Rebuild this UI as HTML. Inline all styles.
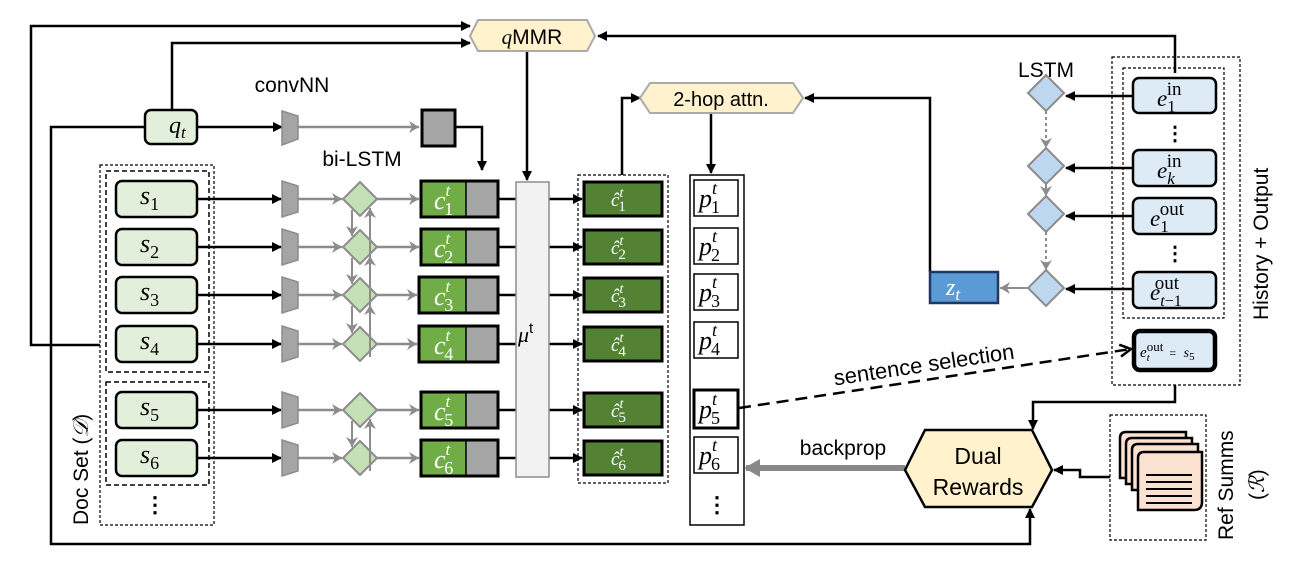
<!DOCTYPE html>
<html><head><meta charset="utf-8"><style>
html,body{margin:0;padding:0;background:#fff;width:1314px;height:562px;overflow:hidden}
svg{display:block}
text{font-family:"Liberation Sans",sans-serif}
.m{font-family:"Liberation Serif",serif;font-style:italic}
.u{font-style:normal}
</style></head><body>
<svg width="1314" height="562" viewBox="0 0 1314 562" xmlns="http://www.w3.org/2000/svg">
<defs>
<marker id="ab" markerWidth="10" markerHeight="10" refX="9" refY="5" orient="auto" markerUnits="userSpaceOnUse"><path d="M0,0 L10,5 L0,10 z" fill="#000"/></marker>
<marker id="ag" markerWidth="12" markerHeight="12" refX="10" refY="6" orient="auto" markerUnits="userSpaceOnUse"><path d="M0,0 L10,6 L0,12 L3,6 z" fill="#8c8c8c"/></marker>
<marker id="ao" markerWidth="14" markerHeight="14" refX="12" refY="7" orient="auto" markerUnits="userSpaceOnUse"><path d="M1,1 L12,7 L1,13" fill="none" stroke="#000" stroke-width="2.5"/></marker>
<marker id="abig" markerWidth="16" markerHeight="18" refX="14" refY="9" orient="auto" markerUnits="userSpaceOnUse"><path d="M0,0 L16,9 L0,18 z" fill="#888"/></marker>
</defs>

<g fill="none" stroke="#000" stroke-width="2.5">
<polyline points="100,345 31,345 31,26 470,26" marker-end="url(#ab)"/>
<polyline points="172,110 172,43 470,43" marker-end="url(#ab)"/>
<polyline points="145,127 51,127 51,544 1030,544 1030,509" marker-end="url(#ab)"/>
<polyline points="197,127 282,127" marker-end="url(#ab)"/>
<polyline points="455,127 482,127 482,170" marker-end="url(#ab)"/>
<polyline points="527,51 527,180" marker-end="url(#ab)"/>
<polyline points="1175,73 1175,36 598,36" marker-end="url(#ab)"/>
<polyline points="622,175 622,98 640,98" marker-end="url(#ab)"/>
<polyline points="711,113 711,173" marker-end="url(#ab)"/>
<polyline points="930,272 930,98 805,98" marker-end="url(#ab)"/>
<polyline points="1175,385 1175,402 1033,402 1033,429" marker-end="url(#ab)"/>
<polyline points="1110,477 1080,477 1080,470 1054,470" marker-end="url(#ab)"/>
</g>

<polygon points="470,36 478,20 587,20 595,36 587,51 478,51" fill="#fff2cc" stroke="#aaa" stroke-width="2"/>
<text x="532" y="44" font-size="21" text-anchor="middle"><tspan class="m">q</tspan>MMR</text>
<polygon points="640,98 650,83 793,83 803,98 793,113 650,113" fill="#fff2cc" stroke="#aaa" stroke-width="2"/>
<text x="721" y="106" font-size="20" text-anchor="middle">2-hop attn.</text>

<rect x="145" y="110" width="52" height="34" rx="6" fill="#e2efda" stroke="#000" stroke-width="2.5"/>
<text x="169" y="133" font-size="24" class="m">q<tspan font-size="17" dy="5">t</tspan></text>
<polygon points="282,111 298,116 298,139 282,145" fill="#a5a5a5" stroke="#8c8c8c" stroke-width="1.5"/>
<line x1="298" y1="127" x2="419" y2="127" stroke="#8c8c8c" stroke-width="2.5" marker-end="url(#ag)"/>
<rect x="422" y="110" width="33" height="36" fill="#a5a5a5" stroke="#000" stroke-width="3"/>
<text x="292" y="92" font-size="21" text-anchor="middle">convNN</text>
<text x="362" y="166" font-size="21" text-anchor="middle">bi-LSTM</text>

<rect x="100" y="165" width="114" height="360" fill="none" stroke="#000" stroke-width="1.2" stroke-dasharray="3,2"/>
<rect x="106" y="171" width="103" height="201" fill="none" stroke="#000" stroke-width="1.5" stroke-dasharray="5,3"/>
<rect x="106" y="382" width="103" height="103" fill="none" stroke="#000" stroke-width="1.5" stroke-dasharray="5,3"/>
<text x="155" y="512" font-size="22" text-anchor="middle" font-weight="bold">⋮</text>
<text transform="translate(88,525) rotate(-90)" font-size="21">Doc Set (<tspan class="m">𝒟</tspan>)</text>

<g>
<g transform="translate(0,199)"><rect x="116" y="-18" width="81" height="36" rx="6" fill="#e2efda" stroke="#000" stroke-width="2.5"/>
<text x="140" y="5" font-size="26" class="m">s<tspan font-size="18" dy="6" class="u">1</tspan></text></g>
<g transform="translate(0,247)"><rect x="116" y="-18" width="81" height="36" rx="6" fill="#e2efda" stroke="#000" stroke-width="2.5"/>
<text x="140" y="5" font-size="26" class="m">s<tspan font-size="18" dy="6" class="u">2</tspan></text></g>
<g transform="translate(0,295)"><rect x="116" y="-18" width="81" height="36" rx="6" fill="#e2efda" stroke="#000" stroke-width="2.5"/>
<text x="140" y="5" font-size="26" class="m">s<tspan font-size="18" dy="6" class="u">3</tspan></text></g>
<g transform="translate(0,344)"><rect x="116" y="-18" width="81" height="36" rx="6" fill="#e2efda" stroke="#000" stroke-width="2.5"/>
<text x="140" y="5" font-size="26" class="m">s<tspan font-size="18" dy="6" class="u">4</tspan></text></g>
<g transform="translate(0,410)"><rect x="116" y="-18" width="81" height="36" rx="6" fill="#e2efda" stroke="#000" stroke-width="2.5"/>
<text x="140" y="5" font-size="26" class="m">s<tspan font-size="18" dy="6" class="u">5</tspan></text></g>
<g transform="translate(0,458)"><rect x="116" y="-18" width="81" height="36" rx="6" fill="#e2efda" stroke="#000" stroke-width="2.5"/>
<text x="140" y="5" font-size="26" class="m">s<tspan font-size="18" dy="6" class="u">6</tspan></text></g>
</g>

<g>
<g transform="translate(0,199)">
<line x1="197" y1="0" x2="281" y2="0" stroke="#000" stroke-width="2.5" marker-end="url(#ab)"/>
<polygon points="282,-18 298,-13 298,13 282,18" fill="#a5a5a5" stroke="#8c8c8c" stroke-width="1.5"/>
<line x1="298" y1="0" x2="342" y2="0" stroke="#8c8c8c" stroke-width="2.5" marker-end="url(#ag)"/>
<polygon points="360,-17 377,0 360,17 343,0" fill="#c5e0b4" stroke="#8c8c8c" stroke-width="2"/>
<line x1="377" y1="0" x2="419" y2="0" stroke="#8c8c8c" stroke-width="2.5" marker-end="url(#ag)"/>
<rect x="421" y="-18" width="45" height="36" fill="#70ad47"/><rect x="466" y="-18" width="32" height="36" fill="#a5a5a5"/>
<rect x="421" y="-18" width="77" height="36" fill="none" stroke="#000" stroke-width="3"/><line x1="466" y1="-18" x2="466" y2="18" stroke="#000" stroke-width="1.5"/>
<text x="434" y="10" font-size="26" fill="#fff" class="m">c<tspan font-size="17" dy="-13">t</tspan><tspan font-size="18" dx="-6" dy="19" class="u">1</tspan></text>
<line x1="498" y1="0" x2="516" y2="0" stroke="#000" stroke-width="2.5"/>
<line x1="549" y1="0" x2="582" y2="0" stroke="#000" stroke-width="2.5" marker-end="url(#ab)"/>
<rect x="584" y="-17" width="78" height="34" fill="#548235" stroke="#000" stroke-width="3"/>
<text x="611" y="7" font-size="19" fill="#fff" class="m">ĉ<tspan font-size="14" dy="-9">t</tspan><tspan font-size="15" dx="-5" dy="14" class="u">1</tspan></text>
</g>
<g transform="translate(0,247)">
<line x1="197" y1="0" x2="281" y2="0" stroke="#000" stroke-width="2.5" marker-end="url(#ab)"/>
<polygon points="282,-18 298,-13 298,13 282,18" fill="#a5a5a5" stroke="#8c8c8c" stroke-width="1.5"/>
<line x1="298" y1="0" x2="342" y2="0" stroke="#8c8c8c" stroke-width="2.5" marker-end="url(#ag)"/>
<polygon points="360,-17 377,0 360,17 343,0" fill="#c5e0b4" stroke="#8c8c8c" stroke-width="2"/>
<line x1="377" y1="0" x2="419" y2="0" stroke="#8c8c8c" stroke-width="2.5" marker-end="url(#ag)"/>
<rect x="421" y="-18" width="45" height="36" fill="#70ad47"/><rect x="466" y="-18" width="32" height="36" fill="#a5a5a5"/>
<rect x="421" y="-18" width="77" height="36" fill="none" stroke="#000" stroke-width="3"/><line x1="466" y1="-18" x2="466" y2="18" stroke="#000" stroke-width="1.5"/>
<text x="434" y="10" font-size="26" fill="#fff" class="m">c<tspan font-size="17" dy="-13">t</tspan><tspan font-size="18" dx="-6" dy="19" class="u">2</tspan></text>
<line x1="498" y1="0" x2="516" y2="0" stroke="#000" stroke-width="2.5"/>
<line x1="549" y1="0" x2="582" y2="0" stroke="#000" stroke-width="2.5" marker-end="url(#ab)"/>
<rect x="584" y="-17" width="78" height="34" fill="#548235" stroke="#000" stroke-width="3"/>
<text x="611" y="7" font-size="19" fill="#fff" class="m">ĉ<tspan font-size="14" dy="-9">t</tspan><tspan font-size="15" dx="-5" dy="14" class="u">2</tspan></text>
</g>
<g transform="translate(0,295)">
<line x1="197" y1="0" x2="281" y2="0" stroke="#000" stroke-width="2.5" marker-end="url(#ab)"/>
<polygon points="282,-18 298,-13 298,13 282,18" fill="#a5a5a5" stroke="#8c8c8c" stroke-width="1.5"/>
<line x1="298" y1="0" x2="342" y2="0" stroke="#8c8c8c" stroke-width="2.5" marker-end="url(#ag)"/>
<polygon points="360,-17 377,0 360,17 343,0" fill="#c5e0b4" stroke="#8c8c8c" stroke-width="2"/>
<line x1="377" y1="0" x2="417" y2="0" stroke="#8c8c8c" stroke-width="2.5" marker-end="url(#ag)"/>
<rect x="419" y="-18" width="47" height="36" fill="#70ad47"/><rect x="466" y="-18" width="32" height="36" fill="#a5a5a5"/>
<rect x="419" y="-18" width="79" height="36" fill="none" stroke="#000" stroke-width="3"/><line x1="466" y1="-18" x2="466" y2="18" stroke="#000" stroke-width="1.5"/>
<text x="434" y="10" font-size="26" fill="#fff" class="m">c<tspan font-size="17" dy="-13">t</tspan><tspan font-size="18" dx="-6" dy="19" class="u">3</tspan></text>
<line x1="498" y1="0" x2="516" y2="0" stroke="#000" stroke-width="2.5"/>
<line x1="549" y1="0" x2="582" y2="0" stroke="#000" stroke-width="2.5" marker-end="url(#ab)"/>
<rect x="584" y="-17" width="78" height="34" fill="#548235" stroke="#000" stroke-width="3"/>
<text x="611" y="7" font-size="19" fill="#fff" class="m">ĉ<tspan font-size="14" dy="-9">t</tspan><tspan font-size="15" dx="-5" dy="14" class="u">3</tspan></text>
</g>
<g transform="translate(0,344)">
<line x1="197" y1="0" x2="281" y2="0" stroke="#000" stroke-width="2.5" marker-end="url(#ab)"/>
<polygon points="282,-18 298,-13 298,13 282,18" fill="#a5a5a5" stroke="#8c8c8c" stroke-width="1.5"/>
<line x1="298" y1="0" x2="342" y2="0" stroke="#8c8c8c" stroke-width="2.5" marker-end="url(#ag)"/>
<polygon points="360,-17 377,0 360,17 343,0" fill="#c5e0b4" stroke="#8c8c8c" stroke-width="2"/>
<line x1="377" y1="0" x2="417" y2="0" stroke="#8c8c8c" stroke-width="2.5" marker-end="url(#ag)"/>
<rect x="419" y="-18" width="47" height="36" fill="#70ad47"/><rect x="466" y="-18" width="32" height="36" fill="#a5a5a5"/>
<rect x="419" y="-18" width="79" height="36" fill="none" stroke="#000" stroke-width="3"/><line x1="466" y1="-18" x2="466" y2="18" stroke="#000" stroke-width="1.5"/>
<text x="434" y="10" font-size="26" fill="#fff" class="m">c<tspan font-size="17" dy="-13">t</tspan><tspan font-size="18" dx="-6" dy="19" class="u">4</tspan></text>
<line x1="498" y1="0" x2="516" y2="0" stroke="#000" stroke-width="2.5"/>
<line x1="549" y1="0" x2="582" y2="0" stroke="#000" stroke-width="2.5" marker-end="url(#ab)"/>
<rect x="584" y="-17" width="78" height="34" fill="#548235" stroke="#000" stroke-width="3"/>
<text x="611" y="7" font-size="19" fill="#fff" class="m">ĉ<tspan font-size="14" dy="-9">t</tspan><tspan font-size="15" dx="-5" dy="14" class="u">4</tspan></text>
</g>
<g transform="translate(0,410)">
<line x1="197" y1="0" x2="281" y2="0" stroke="#000" stroke-width="2.5" marker-end="url(#ab)"/>
<polygon points="282,-18 298,-13 298,13 282,18" fill="#a5a5a5" stroke="#8c8c8c" stroke-width="1.5"/>
<line x1="298" y1="0" x2="342" y2="0" stroke="#8c8c8c" stroke-width="2.5" marker-end="url(#ag)"/>
<polygon points="360,-17 377,0 360,17 343,0" fill="#c5e0b4" stroke="#8c8c8c" stroke-width="2"/>
<line x1="377" y1="0" x2="419" y2="0" stroke="#8c8c8c" stroke-width="2.5" marker-end="url(#ag)"/>
<rect x="421" y="-18" width="45" height="36" fill="#70ad47"/><rect x="466" y="-18" width="32" height="36" fill="#a5a5a5"/>
<rect x="421" y="-18" width="77" height="36" fill="none" stroke="#000" stroke-width="3"/><line x1="466" y1="-18" x2="466" y2="18" stroke="#000" stroke-width="1.5"/>
<text x="434" y="10" font-size="26" fill="#fff" class="m">c<tspan font-size="17" dy="-13">t</tspan><tspan font-size="18" dx="-6" dy="19" class="u">5</tspan></text>
<line x1="498" y1="0" x2="516" y2="0" stroke="#000" stroke-width="2.5"/>
<line x1="549" y1="0" x2="582" y2="0" stroke="#000" stroke-width="2.5" marker-end="url(#ab)"/>
<rect x="584" y="-17" width="78" height="34" fill="#548235" stroke="#000" stroke-width="3"/>
<text x="611" y="7" font-size="19" fill="#fff" class="m">ĉ<tspan font-size="14" dy="-9">t</tspan><tspan font-size="15" dx="-5" dy="14" class="u">5</tspan></text>
</g>
<g transform="translate(0,458)">
<line x1="197" y1="0" x2="281" y2="0" stroke="#000" stroke-width="2.5" marker-end="url(#ab)"/>
<polygon points="282,-18 298,-13 298,13 282,18" fill="#a5a5a5" stroke="#8c8c8c" stroke-width="1.5"/>
<line x1="298" y1="0" x2="342" y2="0" stroke="#8c8c8c" stroke-width="2.5" marker-end="url(#ag)"/>
<polygon points="360,-17 377,0 360,17 343,0" fill="#c5e0b4" stroke="#8c8c8c" stroke-width="2"/>
<line x1="377" y1="0" x2="419" y2="0" stroke="#8c8c8c" stroke-width="2.5" marker-end="url(#ag)"/>
<rect x="421" y="-18" width="45" height="36" fill="#70ad47"/><rect x="466" y="-18" width="32" height="36" fill="#a5a5a5"/>
<rect x="421" y="-18" width="77" height="36" fill="none" stroke="#000" stroke-width="3"/><line x1="466" y1="-18" x2="466" y2="18" stroke="#000" stroke-width="1.5"/>
<text x="434" y="10" font-size="26" fill="#fff" class="m">c<tspan font-size="17" dy="-13">t</tspan><tspan font-size="18" dx="-6" dy="19" class="u">6</tspan></text>
<line x1="498" y1="0" x2="516" y2="0" stroke="#000" stroke-width="2.5"/>
<line x1="549" y1="0" x2="582" y2="0" stroke="#000" stroke-width="2.5" marker-end="url(#ab)"/>
<rect x="584" y="-17" width="78" height="34" fill="#548235" stroke="#000" stroke-width="3"/>
<text x="611" y="7" font-size="19" fill="#fff" class="m">ĉ<tspan font-size="14" dy="-9">t</tspan><tspan font-size="15" dx="-5" dy="14" class="u">6</tspan></text>
</g>
</g>

<g stroke="#8c8c8c" stroke-width="2" fill="none">
<line x1="352" y1="210" x2="352" y2="236" marker-end="url(#ag)"/>
<line x1="370" y1="260" x2="370" y2="208" marker-end="url(#ag)"/>
<line x1="352" y1="258" x2="352" y2="284" marker-end="url(#ag)"/>
<line x1="370" y1="308" x2="370" y2="256" marker-end="url(#ag)"/>
<line x1="352" y1="306" x2="352" y2="333" marker-end="url(#ag)"/>
<line x1="370" y1="357" x2="370" y2="305" marker-end="url(#ag)"/>
<line x1="352" y1="421" x2="352" y2="447" marker-end="url(#ag)"/>
<line x1="370" y1="471" x2="370" y2="419" marker-end="url(#ag)"/>
</g>

<rect x="516" y="182" width="33" height="295" fill="#f2f2f2" stroke="#8c8c8c" stroke-width="1.5"/>
<text x="518" y="342" font-size="22" class="m">μ<tspan font-size="15" dy="-9" class="u" font-family="Liberation Sans">t</tspan></text>

<rect x="578" y="175" width="90" height="308" fill="none" stroke="#000" stroke-width="1.2" stroke-dasharray="3,2"/>

<rect x="690" y="175" width="54" height="350" fill="#fff" stroke="#000" stroke-width="1.5"/>
<g>
<rect x="694" y="180" width="44" height="36" fill="#fff" stroke="#000" stroke-width="1.5"/>
<text x="699" y="207" class="m" font-size="26">p<tspan font-size="18" dy="-13">t</tspan><tspan font-size="18" dx="-6" dy="19" class="u">1</tspan></text>
<rect x="694" y="228" width="44" height="36" fill="#fff" stroke="#000" stroke-width="1.5"/>
<text x="699" y="255" class="m" font-size="26">p<tspan font-size="18" dy="-13">t</tspan><tspan font-size="18" dx="-6" dy="19" class="u">2</tspan></text>
<rect x="694" y="274" width="44" height="36" fill="#fff" stroke="#000" stroke-width="1.5"/>
<text x="699" y="301" class="m" font-size="26">p<tspan font-size="18" dy="-13">t</tspan><tspan font-size="18" dx="-6" dy="19" class="u">3</tspan></text>
<rect x="694" y="322" width="44" height="36" fill="#fff" stroke="#000" stroke-width="1.5"/>
<text x="699" y="349" class="m" font-size="26">p<tspan font-size="18" dy="-13">t</tspan><tspan font-size="18" dx="-6" dy="19" class="u">4</tspan></text>
<rect x="694" y="390" width="44" height="38" fill="#fff" stroke="#000" stroke-width="3"/>
<text x="699" y="418" class="m" font-size="26">p<tspan font-size="18" dy="-13">t</tspan><tspan font-size="18" dx="-6" dy="19" class="u">5</tspan></text>
<rect x="694" y="437" width="44" height="36" fill="#fff" stroke="#000" stroke-width="1.5"/>
<text x="699" y="464" class="m" font-size="26">p<tspan font-size="18" dy="-13">t</tspan><tspan font-size="18" dx="-6" dy="19" class="u">6</tspan></text>
</g>
<text x="717" y="512" font-size="22" text-anchor="middle" font-weight="bold">⋮</text>

<line x1="739" y1="408" x2="1131" y2="349" stroke="#000" stroke-width="2.5" stroke-dasharray="12,7" marker-end="url(#ao)"/>
<text transform="translate(925,372) rotate(-8.5)" font-size="22" text-anchor="middle">sentence selection</text>

<line x1="905" y1="468" x2="746" y2="468" stroke="#888" stroke-width="6" marker-end="url(#abig)"/>
<text x="843" y="455" font-size="21" text-anchor="middle">backprop</text>

<polygon points="905,470 925,430 1032,430 1052,470 1032,507 925,507" fill="#fff2cc" stroke="#000" stroke-width="2.5"/>
<text x="978" y="464" font-size="23" text-anchor="middle">Dual</text>
<text x="978" y="495" font-size="23" text-anchor="middle">Rewards</text>

<rect x="1110" y="415" width="96" height="125" fill="none" stroke="#000" stroke-width="1.2" stroke-dasharray="3,2"/>
<g stroke="#000" stroke-width="2.5" fill="#fbe1d0">
<path d="M1120,438 q0,-6 6,-6 h60 v46 h-66 z"/>
<path d="M1126,444 q0,-6 6,-6 h60 v46 h-66 z"/>
<path d="M1132,450 q0,-6 6,-6 h60 v46 h-66 z"/>
<path d="M1138,458 q0,-6 6,-6 h58 v50 q0,8 -8,8 h-56 z"/>
</g>
<g stroke="#000" stroke-width="2"><line x1="1146" y1="475" x2="1192" y2="475"/><line x1="1146" y1="482" x2="1192" y2="482"/><line x1="1146" y1="489" x2="1192" y2="489"/><line x1="1146" y1="496" x2="1192" y2="496"/><line x1="1146" y1="503" x2="1192" y2="503"/></g>
<text transform="translate(1233,540) rotate(-90)" font-size="21">Ref Summs</text>
<text transform="translate(1264,500) rotate(-90)" font-size="21">(<tspan class="m">ℛ</tspan>)</text>

<rect x="1112" y="57" width="128" height="328" fill="none" stroke="#000" stroke-width="1.2" stroke-dasharray="3,2"/>
<rect x="1123" y="68" width="101" height="250" fill="none" stroke="#000" stroke-width="1.2" stroke-dasharray="3,2"/>
<text transform="translate(1268,320) rotate(-90)" font-size="21">History + Output</text>
<text x="1046" y="77" font-size="21" text-anchor="middle">LSTM</text>

<g stroke="#8c8c8c" stroke-width="2" fill="none">
<line x1="1046" y1="111" x2="1046" y2="148" stroke-dasharray="3,3" marker-end="url(#ag)"/>
<line x1="1046" y1="184" x2="1046" y2="196" marker-end="url(#ag)"/>
<line x1="1046" y1="232" x2="1046" y2="270" stroke-dasharray="3,3" marker-end="url(#ag)"/>
<line x1="1030" y1="288" x2="1000" y2="288" marker-end="url(#ag)"/>
</g>
<g fill="#bdd7ee" stroke="#8c8c8c" stroke-width="2">
<polygon points="1046,75 1064,93 1046,111 1028,93"/>
<polygon points="1046,148 1064,166 1046,184 1028,166"/>
<polygon points="1046,196 1064,214 1046,232 1028,214"/>
<polygon points="1046,270 1064,288 1046,306 1028,288"/>
</g>
<g stroke="#000" stroke-width="2.5">
<line x1="1133" y1="96" x2="1066" y2="96" marker-end="url(#ab)"/>
<line x1="1133" y1="168" x2="1066" y2="168" marker-end="url(#ab)"/>
<line x1="1133" y1="216" x2="1066" y2="216" marker-end="url(#ab)"/>
<line x1="1133" y1="289" x2="1066" y2="289" marker-end="url(#ab)"/>
</g>
<rect x="930" y="272" width="68" height="31" fill="#5b9bd5" stroke="#1f3864" stroke-width="2.5"/>
<text x="946" y="295" font-size="24" fill="#fff" class="m">z<tspan font-size="17" dy="5">t</tspan></text>

<g fill="#ddebf7" stroke="#000" stroke-width="2.5">
<rect x="1133" y="78" width="83" height="35" rx="6"/>
<rect x="1133" y="150" width="83" height="36" rx="6"/>
<rect x="1133" y="198" width="83" height="36" rx="6"/>
<rect x="1133" y="272" width="83" height="36" rx="6"/>
<rect x="1134" y="331" width="81" height="39" rx="6" stroke-width="4.5"/>
</g>
<text x="1157" y="106" font-size="23" class="m">e<tspan font-size="17" dy="6" class="u">1</tspan><tspan font-size="19" dx="-9" dy="-17" class="u">in</tspan></text>
<text x="1157" y="178" font-size="23" class="m">e<tspan font-size="17" dy="6">k</tspan><tspan font-size="19" dx="-8" dy="-17" class="u">in</tspan></text>
<text x="1150" y="226" font-size="23" class="m">e<tspan font-size="17" dy="6" class="u">1</tspan><tspan font-size="19" dx="-9" dy="-17" class="u">out</tspan></text>
<text x="1150" y="300" font-size="23" class="m">e<tspan font-size="16" dy="6">t</tspan><tspan font-size="16" class="u">−1</tspan><tspan font-size="19" dx="-27" dy="-17" class="u">out</tspan></text>
<text x="1140" y="357" font-size="15" class="m">e<tspan font-size="11" dy="4">t</tspan><tspan font-size="13" dx="-3" dy="-10" class="u">out</tspan><tspan font-size="12" dx="6" dy="6" class="u">=</tspan><tspan font-size="14" dx="4"> s</tspan><tspan font-size="11" dy="3" class="u">5</tspan></text>
<text x="1175" y="140" font-size="20" text-anchor="middle" font-weight="bold">⋮</text>
<text x="1175" y="260" font-size="20" text-anchor="middle" font-weight="bold">⋮</text>
</svg>
</body></html>
